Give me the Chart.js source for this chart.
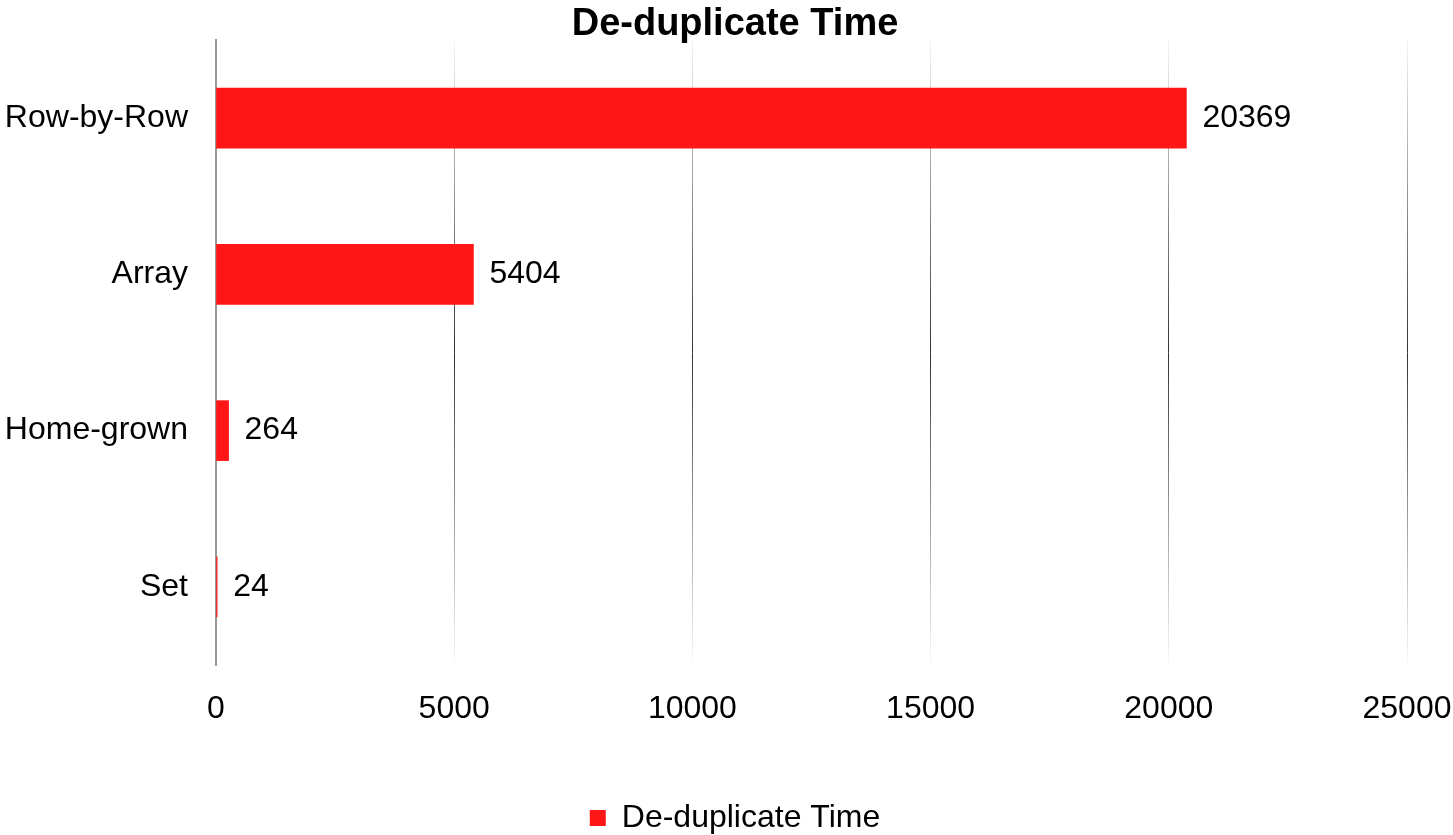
<!DOCTYPE html>
<html>
<head>
<meta charset="utf-8">
<title>De-duplicate Time</title>
<script src="https://cdn.jsdelivr.net/npm/chart.js@4/dist/chart.umd.min.js"></script>
<style>
  html, body { margin: 0; padding: 0; background: #fff; }
  #wrap { width: 1453px; height: 835px; position: relative; }
</style>
</head>
<body>
<div id="wrap"><canvas id="chart"></canvas></div>
<script>
const categories = ["Row-by-Row", "Array", "Home-grown", "Set"];
const dedupTimes = [20369, 5404, 264, 24];
const xTicks = [0, 5000, 10000, 15000, 20000, 25000];

const FONT = "'Liberation Sans', Arial, sans-serif";
const barRed = "#ff1717";

// vertical grid lines fade out towards the top and bottom of the plot
function gridColor(ctx) {
  if (ctx.index === 0) return "rgba(0,0,0,0)";
  const area = ctx.chart.chartArea;
  if (!area) return "rgba(0,0,0,0.3)";
  const g = ctx.chart.ctx.createLinearGradient(0, area.top, 0, area.bottom);
  g.addColorStop(0, "rgba(0,0,0,0.04)");
  g.addColorStop(0.5, "rgba(0,0,0,0.8)");
  g.addColorStop(1, "rgba(0,0,0,0.02)");
  return g;
}

// value written just past the end of each bar
const valueLabels = {
  id: "valueLabels",
  afterDatasetsDraw(chart) {
    const ctx = chart.ctx;
    const meta = chart.getDatasetMeta(0);
    ctx.save();
    ctx.font = "32px " + FONT;
    ctx.fillStyle = "#000";
    ctx.textAlign = "left";
    ctx.textBaseline = "middle";
    meta.data.forEach((bar, i) => {
      ctx.fillText(String(chart.data.datasets[0].data[i]), bar.x + 16, bar.y);
    });
    ctx.restore();
  },
};

// title and legend sit a little right of the canvas centre
const nudgeHeader = {
  id: "nudgeHeader",
  afterLayout(chart) {
    if (chart.titleBlock) chart.titleBlock.left += 17;
    if (chart.legend) chart.legend.left += 17;
  },
};

new Chart(document.getElementById("chart"), {
  type: "bar",
  data: {
    labels: categories,
    datasets: [
      {
        label: "De-duplicate Time",
        data: dedupTimes,
        backgroundColor: barRed,
        borderWidth: 0,
        barThickness: 60,
      },
    ],
  },
  options: {
    indexAxis: "y",
    responsive: true,
    maintainAspectRatio: false,
    animation: false,
    layout: { padding: { left: 0, right: 0, top: 0, bottom: -9 } },
    scales: {
      x: {
        min: 0,
        max: 25000,
        afterBuildTicks(scale) {
          scale.ticks = xTicks.map((v) => ({ value: v }));
        },
        afterFit(scale) {
          scale.height = 137;
          scale.paddingRight = 46;
        },
        grid: { color: gridColor, lineWidth: 1, drawTicks: false },
        border: { display: false },
        ticks: {
          color: "#000",
          padding: 25,
          font: { family: FONT, size: 32 },
          callback: (v) => String(v),
        },
      },
      y: {
        afterFit(scale) {
          scale.width = 216;
          scale.paddingTop = 0;
          scale.paddingBottom = 0;
        },
        grid: { display: false, drawTicks: false },
        border: { display: true, color: "#999", width: 2 },
        ticks: {
          color: "#000",
          padding: 28,
          font: { family: FONT, size: 32 },
        },
      },
    },
    plugins: {
      title: {
        display: true,
        text: "De-duplicate Time",
        color: "#000",
        font: { family: FONT, size: 38, weight: "bold", lineHeight: 1 },
        padding: { top: 6, bottom: -4 },
      },
      legend: {
        position: "bottom",
        labels: {
          color: "#000",
          boxWidth: 16,
          boxHeight: 16,
          padding: 0,
          font: { family: FONT, size: 32, lineHeight: 1 },
        },
      },
      tooltip: { enabled: false },
    },
  },
  plugins: [valueLabels, nudgeHeader],
});
</script>
</body>
</html>
